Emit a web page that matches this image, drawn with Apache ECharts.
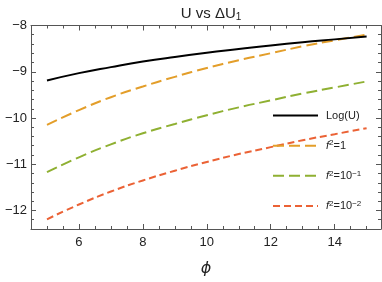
<!DOCTYPE html>
<html><head><meta charset="utf-8">
<script src="https://cdn.jsdelivr.net/npm/echarts@6/dist/echarts.min.js"></script>
<style>html,body{margin:0;padding:0;background:#fff}#c{width:382px;height:282px}</style>
</head><body><div id="c"></div>
<script>
const phi = [5, 6, 7, 8, 9, 10, 11, 12, 13, 14, 15];
const logU = [-9.19, -9.03, -8.90, -8.78, -8.68, -8.59, -8.51, -8.43, -8.36, -8.30, -8.24];
const f2_1 = [-10.15, -9.83, -9.55, -9.32, -9.11, -8.92, -8.75, -8.60, -8.45, -8.32, -8.20];
const f2_01 = [-11.17, -10.85, -10.57, -10.33, -10.13, -9.94, -9.77, -9.62, -9.47, -9.34, -9.21];
const f2_001 = [-12.19, -11.87, -11.59, -11.35, -11.14, -10.95, -10.78, -10.63, -10.48, -10.35, -10.22];
const xMajor = [6, 8, 10, 12, 14];
const xMinor = [5, 5.5, 6.5, 7, 7.5, 8.5, 9, 9.5, 10.5, 11, 11.5, 12.5, 13, 13.5, 14.5, 15];
const yMajor = [-12, -11, -10, -9, -8];
const yMinor = [-12.2, -11.8, -11.6, -11.4, -11.2, -10.8, -10.6, -10.4, -10.2, -9.8, -9.6, -9.4, -9.2, -8.8, -8.6, -8.4, -8.2];
const names = ['Log(U)', 'f2=1', 'f2=0.1', 'f2=0.01'];
const legendLabels = {
  'Log(U)': 'Log(U)',
  'f2=1': '{i|f}{s|2}{n|=1}',
  'f2=0.1': '{i|f}{s|2}{n|=10}{s|−1}',
  'f2=0.01': '{i|f}{s|2}{n|=10}{s|−2}'
};

const X0 = 4.5, X1 = 15.45, Y0 = -12.4, Y1 = -8;
const axisCol = '#555';
function xAx(pos, vals, len, labels) {
  return {
    type: 'value', position: pos, min: X0, max: X1,
    axisLine: { show: vals === xMajor, lineStyle: { color: axisCol, width: 1 } },
    axisTick: { show: true, inside: true, length: len, customValues: vals, lineStyle: { color: axisCol } },
    axisLabel: labels ? { show: true, customValues: xMajor, color: '#222', fontSize: 13, fontFamily: 'Liberation Sans', margin: 7 } : { show: false },
    splitLine: { show: false },
    name: labels ? '\u03D5' : '', nameLocation: 'middle', nameGap: 32,
    nameTextStyle: { fontSize: 16, fontStyle: 'italic', color: '#222', fontFamily: 'DejaVu Sans' }
  };
}
function yAx(pos, vals, len, labels) {
  return {
    type: 'value', position: pos, min: Y0, max: Y1,
    axisLine: { show: vals === yMajor, lineStyle: { color: axisCol, width: 1 } },
    axisTick: { show: true, inside: true, length: len, customValues: vals, lineStyle: { color: axisCol } },
    axisLabel: labels ? { show: true, customValues: yMajor, color: '#222', fontSize: 13, fontFamily: 'Liberation Sans', margin: 4,
      formatter: v => String(v).replace('-', '\u2212') } : { show: false },
    splitLine: { show: false }
  };
}
const chart = echarts.init(document.getElementById('c'), null, { renderer: 'canvas' });
const cols = ['#000000', '#E39E2A', '#8FB032', '#EB6235'];
const dashes = ['solid', [11, 5], [11, 5], [7, 4]];
const datas = [logU, f2_1, f2_01, f2_001];
chart.setOption({
  animation: false,
  title: {
    text: 'U vs ΔU{sub|1}', left: 206, top: 1, textAlign: 'center',
    textStyle: { fontSize: 15, fontWeight: 'normal', color: '#222', fontFamily: 'Liberation Sans',
      rich: { sub: { fontSize: 10, verticalAlign: 'bottom', padding: [6, 0, 0, 0], color: '#222', fontFamily: 'Liberation Sans' } } }
  },
  grid: { left: 31, right: 1, top: 25.5, bottom: 47, containLabel: false },
  xAxis: [xAx('bottom', xMajor, 5, true), xAx('bottom', xMinor, 3, false), xAx('top', xMajor, 5, false), xAx('top', xMinor, 3, false)],
  yAxis: [yAx('left', yMajor, 5, true), yAx('left', yMinor, 3, false), yAx('right', yMajor, 5, false), yAx('right', yMinor, 3, false)],
  legend: {
    orient: 'vertical', left: 272, top: 110, itemWidth: 45, itemHeight: 14, itemGap: 18, padding: 0,
    data: names,
    itemStyle: { opacity: 0 },
    formatter: n => legendLabels[n],
    textStyle: { fontSize: 11, color: '#222', fontFamily: 'Liberation Sans', padding: [0, 0, 0, 3],
      rich: {
        i: { fontSize: 11, fontStyle: 'italic', color: '#222', fontFamily: 'Liberation Sans' },
        n: { fontSize: 11, color: '#222', fontFamily: 'Liberation Sans' },
        s: { fontSize: 8, color: '#222', verticalAlign: 'top', padding: [0, 0, 5, 0], fontFamily: 'Liberation Sans' }
      } }
  },
  series: names.map((n, k) => ({
    name: n, type: 'line', smooth: true, symbol: 'none',
    data: phi.map((x, i) => [x, datas[k][i]]),
    lineStyle: { color: cols[k], width: 2, type: dashes[k] },
    itemStyle: { color: cols[k] },
    z: 4 - k
  }))
});
</script></body></html>
